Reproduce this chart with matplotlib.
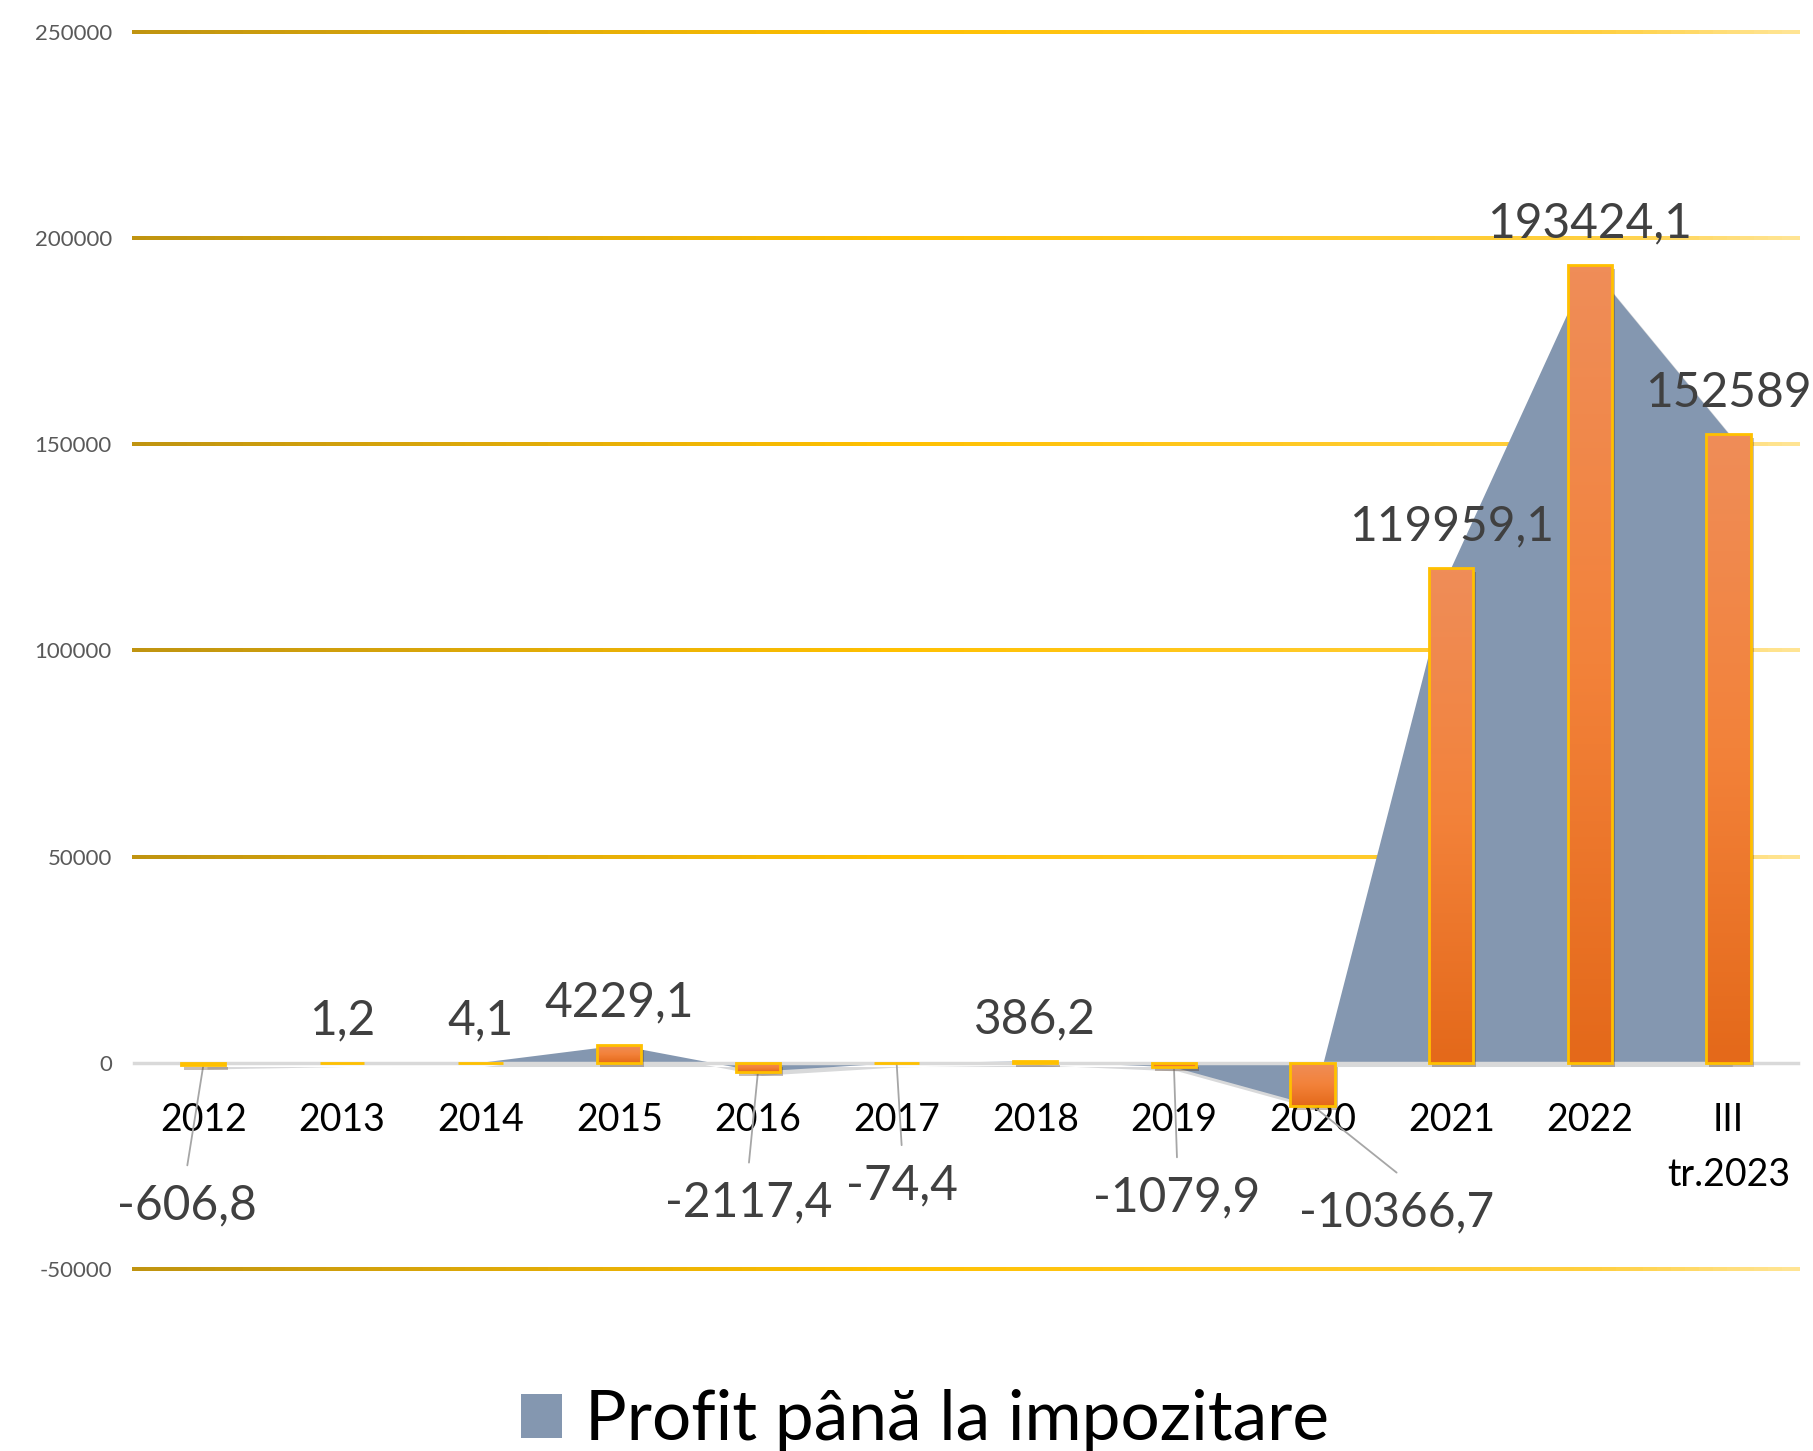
import numpy as np
import matplotlib.pyplot as plt
import matplotlib.patheffects as pe
from matplotlib.collections import LineCollection
from matplotlib.colors import LinearSegmentedColormap
from matplotlib.patches import Patch

plt.rcParams['font.family'] = ['Lato', 'DejaVu Sans']

# data
categories = ['2012', '2013', '2014', '2015', '2016', '2017', '2018',
              '2019', '2020', '2021', '2022', 'III\ntr.2023']
profit = [-606.8, 1.2, 4.1, 4229.1, -2117.4, -74.4, 386.2,
          -1079.9, -10366.7, 119959.1, 193424.1, 152589]
y_ticks = [-50000, 0, 50000, 100000, 150000, 200000, 250000]
series_name = 'Profit până la impozitare'

# where each value label sits relative to its point (pixels)
label_offsets = [(-16, -140), (0, 42), (0, 42), (0, 43), (-9, -131), (5, -122),
                 (0, 42), (3, -130), (84, -107), (0, 42), (0, 42), (0, 41)]

area_color = '#8497B0'
bar_edge = '#FFC000'
bar_cmap = LinearSegmentedColormap.from_list('bar', ['#EF8D58', '#F3823A', '#E4691A'])
grid_cmap = LinearSegmentedColormap.from_list(
    'grid', [(0, '#C09410'), (0.45, '#FFC000'), (0.88, '#FFCF40'), (1, '#FFE699')])


def fmt(v):
    s = f"{v:.1f}"
    if s.endswith('.0'):
        s = s[:-2]
    return s.replace('.', ',')


fig = plt.figure(figsize=(18.13, 14.51), dpi=100)
ax = fig.add_axes([0.0739, 0.1254, 0.9178, 0.8526])

x = np.arange(len(categories))

# spines first (set_position resets the ticks)
for s in ['left', 'top', 'right']:
    ax.spines[s].set_visible(False)
ax.spines['bottom'].set_position(('data', 0))
ax.spines['bottom'].set_color('#D9D9D9')
ax.spines['bottom'].set_linewidth(2.5)
ax.spines['bottom'].set_zorder(2.5)

# gradient gridlines
n = 120
xs = np.linspace(0, 1, n + 1)
for yt in y_ticks:
    if yt == 0:
        continue
    segs = [[(xs[k], yt), (xs[k + 1], yt)] for k in range(n)]
    lc = LineCollection(segs, colors=grid_cmap(xs[:-1]), linewidths=1.5,
                        transform=ax.get_yaxis_transform(), zorder=1, clip_on=False,
                        capstyle='projecting', antialiased=False)
    ax.add_collection(lc)

# area behind the bars
area = ax.fill_between(x, profit, 0, color=area_color, zorder=2, linewidth=0)
area.set_path_effects([pe.SimplePatchShadow(offset=(3, -3), alpha=0.18), pe.Normal()])

# bars
bw = 0.32
bars = ax.bar(x, profit, width=bw, color='#F07F35', linewidth=0, zorder=3)
grad = np.linspace(0, 1, 100).reshape(-1, 1)
for r in bars:
    r.set_path_effects([pe.SimplePatchShadow(offset=(2, -3), alpha=0.3), pe.Normal()])
    x0, w = r.get_x(), r.get_width()
    y0, h = r.get_y(), r.get_height()
    lo, hi = min(y0, y0 + h), max(y0, y0 + h)
    im = ax.imshow(grad, extent=[x0, x0 + w, lo, hi], aspect='auto', cmap=bar_cmap,
                   zorder=3.1, interpolation='bicubic')
    im.set_clip_path(r)
ax.bar(x, profit, width=bw, fill=False, edgecolor=bar_edge, linewidth=2, zorder=3.2)

# value labels and leader lines
for i, v in enumerate(profit):
    dx, dy = label_offsets[i]
    ax.annotate(fmt(v), xy=(i, v), xytext=(dx, dy), textcoords='offset pixels',
                ha='center', va='center', fontsize=34.5, color='#404040', zorder=5)
    if v < 0:
        ax.annotate('', xy=(i, v), xytext=(dx, dy + 40), textcoords='offset pixels',
                    arrowprops=dict(arrowstyle='-', color='#A6A6A6', lw=1.3,
                                    shrinkA=0, shrinkB=0), zorder=2.6)

ax.set_xlim(-0.5, len(categories) - 0.5)
ax.set_ylim(y_ticks[0], y_ticks[-1])
ax.set_yticks(y_ticks)
ax.set_yticklabels([str(t) for t in y_ticks])
ax.tick_params(axis='y', length=0, pad=16, labelsize=16, labelcolor='#595959')
ax.tick_params(axis='x', length=0, pad=28, labelsize=27, labelcolor='black')
ax.set_xticks(x)
ax.set_xticklabels(categories, linespacing=1.66)

fig.legend(handles=[Patch(facecolor=area_color, label=series_name)],
           loc='center', bbox_to_anchor=(925 / 1813, 0.021), frameon=False,
           fontsize=50, handlelength=0.6, handleheight=0.6, handletextpad=0.33)

plt.savefig('out.png', dpi=100)
